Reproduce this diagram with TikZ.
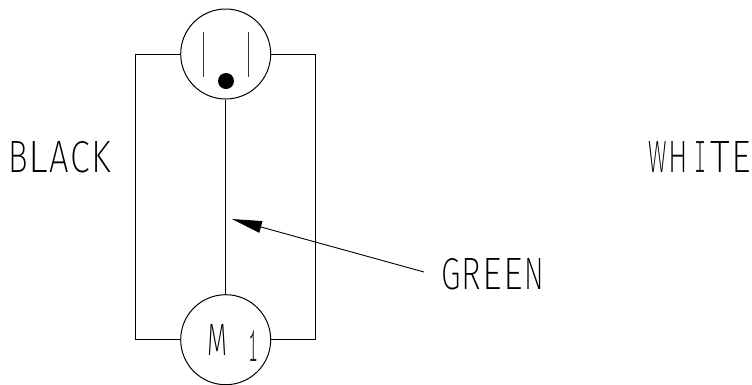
\documentclass[tikz,border=0pt]{standalone}
\usepackage{fontspec}
\usepackage{graphicx}
\usetikzlibrary{arrows.meta}
\newfontfamily\cadfont{Fira Sans ExtraLight}
\makeatletter
% one stretched letter on a fixed pitch, the way a plotter letters a drawing
\newcommand{\cadletter}[2][19.5]{\makebox[20.75pt][l]{\hspace{-2pt}\resizebox{#1pt}{31pt}{\cadfont #2}}}
\newcommand{\cadword}[1]{\@tfor\cad@c:=#1\do{\cadletter{\cad@c}}}
\newcommand{\cadslab}[2]{\resizebox{#1pt}{31pt}{\color{black!90}\fontseries{l}\ttfamily #2}}
\makeatother
\tikzset{
    wire/.style={draw, line width=1pt},
    device/.style={wire, circle, minimum size=90pt, inner sep=0pt},
    slot/.style={draw, line width=1pt, black!80},
    label/.style={inner sep=0pt, anchor=north west}
}

\begin{document}
\begin{tikzpicture}[x=1pt, y=-1pt]
\useasboundingbox (0,0) rectangle (752,384);

\node[device] (outlet) at (225.7,54) {};
\node[device] (motor) at (225.7,339.7) {};

\coordinate (lefttop) at (135.5,54);
\coordinate (leftbot) at (135.5,339.7);
\coordinate (righttop) at (315.7,54);
\coordinate (rightbot) at (315.7,339.7);

\draw[wire] (outlet.west) -- (lefttop) -- (leftbot) -- (motor.west);
\draw[wire] (outlet.east) -- (righttop) -- (rightbot) -- (motor.east);
\draw[wire] (outlet.south) -- (motor.north);

% outlet face
\draw[slot] (203,32) -- (203,77);
\draw[slot] (248,32) -- (248,77);
\fill (226,81) circle (8);

\node[label] (black) at (10,141) {\cadword{BLACK}};
\node[label] (white) at (650,141) {\cadletter[18.5]{W}\cadletter{H}\makebox[20.75pt][l]{\hspace{3pt}\cadslab{12}{I}}\cadletter{T}\cadletter{E}};
\node[label] (green) at (443,258) {\cadword{GREEN}};
\node[label] (mname) at (209,324) {\cadletter[20]{M}};
\node[label] (mnum) at (248,330) {\cadslab{10}{1}};

\coordinate (greentail) at (424,272);
\coordinate (greentip) at (232,219);
\draw[-{Triangle[length=30pt,width=12pt]}, line width=0.9pt] (greentail) -- (greentip);

\end{tikzpicture}
\end{document}
